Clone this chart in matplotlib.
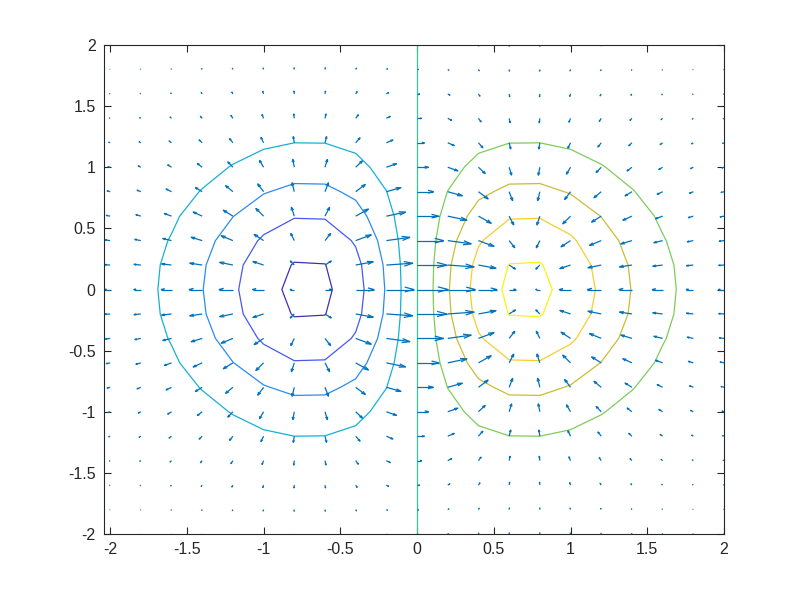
import numpy as np
import matplotlib
matplotlib.use('Agg')
import matplotlib.pyplot as plt
from matplotlib.colors import LinearSegmentedColormap
from matplotlib.collections import LineCollection

# grid and field (z = x*exp(-x^2-y^2)), step 0.2
x_vals = np.linspace(-2, 2, 21)
y_vals = np.linspace(-2, 2, 21)
levels = [-0.4, -0.3, -0.2, -0.1, 0.0, 0.1, 0.2, 0.3, 0.4]
x_ticks = [-2, -1.5, -1, -0.5, 0, 0.5, 1, 1.5, 2]
y_ticks = [-2, -1.5, -1, -0.5, 0, 0.5, 1, 1.5, 2]

X, Y = np.meshgrid(x_vals, y_vals)
Z = X * np.exp(-X**2 - Y**2)
DY, DX = np.gradient(Z, 0.2, 0.2)

# parula-ish colormap
parula_pts = [(0.2422, 0.1504, 0.6603), (0.2810, 0.3228, 0.9579),
              (0.1786, 0.5289, 0.9682), (0.0689, 0.6948, 0.8394),
              (0.2161, 0.7843, 0.5923), (0.5044, 0.7993, 0.3480),
              (0.8185, 0.7327, 0.1962), (0.9892, 0.8136, 0.1885),
              (0.9763, 0.9831, 0.0538)]
parula = LinearSegmentedColormap.from_list('parula', parula_pts)

plt.rcParams['font.family'] = ['Liberation Sans', 'DejaVu Sans']
fig = plt.figure(figsize=(8, 6), dpi=100)
ax = fig.add_axes([0.13, 0.11, 0.775, 0.815])

ax.contour(X, Y, Z, levels=levels, cmap=parula, vmin=Z.min(), vmax=Z.max(),
           linewidths=0.9)

# matlab style quiver (line arrows)
s = 0.21
u = DX * s
v = DY * s
alpha, beta = 0.33, 0.33
tx, ty = X + u, Y + v
segs = []
for x0, y0, x1, y1, uu, vv in zip(X.ravel(), Y.ravel(), tx.ravel(), ty.ravel(), u.ravel(), v.ravel()):
    segs.append([(x0, y0), (x1, y1)])
    segs.append([(x1 - alpha * (uu + beta * vv), y1 - alpha * (vv - beta * uu)), (x1, y1),
                 (x1 - alpha * (uu - beta * vv), y1 - alpha * (vv + beta * uu))])
ax.add_collection(LineCollection(segs, colors=[(0, 0.447, 0.741)], linewidths=0.9))

ax.set_xlim(-2.04, 2)
ax.set_ylim(-2, 2)
ax.set_xticks(x_ticks)
ax.set_yticks(y_ticks)
ax.set_xticklabels([f'{t:g}' for t in x_ticks])
ax.set_yticklabels([f'{t:g}' for t in y_ticks])
ax.tick_params(direction='in', top=True, right=True, length=5, width=0.8,
               labelsize=11.5, colors='#262626', pad=6)
for sp in ax.spines.values():
    sp.set_color('#262626')
    sp.set_linewidth(0.8)

fig.savefig('out.png')
